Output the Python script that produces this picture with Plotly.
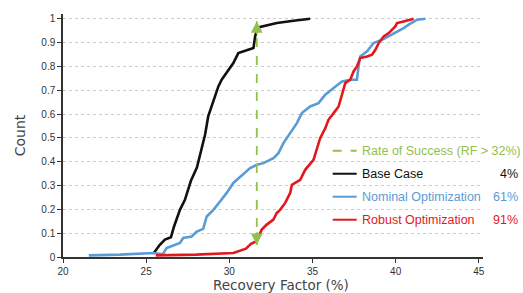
import plotly.graph_objects as go

# ---- data ----
base_x = [25.46, 25.82, 26.13, 26.49, 26.67, 27.03, 27.33, 27.69, 28.05, 28.23, 28.41, 28.54,
          28.73, 28.94, 29.34, 29.54, 29.94, 30.24, 30.54, 31.14, 31.45, 31.55, 31.67, 31.85,
          32.45, 32.86, 33.86, 34.86]
base_y = [0.017, 0.051, 0.073, 0.083, 0.127, 0.198, 0.240, 0.320, 0.375, 0.422, 0.471, 0.513,
          0.590, 0.632, 0.716, 0.744, 0.786, 0.814, 0.856, 0.870, 0.877, 0.926, 0.954, 0.966,
          0.975, 0.982, 0.992, 1.0]

nom_x = [21.55, 23.42, 25.46, 25.83, 26.0, 26.23, 27.03, 27.23, 27.73, 28.04, 28.43, 28.64,
         29.04, 29.44, 29.84, 30.24, 30.64, 31.25, 31.65, 32.05, 32.65, 32.95, 33.25, 33.76,
         34.06, 34.36, 34.86, 35.36, 35.77, 36.27, 36.77, 37.27, 37.67, 37.77, 37.87, 38.28,
         38.67, 39.18, 39.58, 39.88, 40.48, 40.78, 41.29, 41.79]
nom_y = [0.007, 0.010, 0.017, 0.012, 0.011, 0.038, 0.059, 0.080, 0.086, 0.107, 0.118, 0.170,
         0.198, 0.233, 0.269, 0.311, 0.337, 0.373, 0.387, 0.394, 0.415, 0.436, 0.478, 0.534,
         0.562, 0.604, 0.632, 0.646, 0.681, 0.709, 0.737, 0.744, 0.744, 0.800, 0.842, 0.863,
         0.898, 0.912, 0.926, 0.940, 0.961, 0.975, 0.996, 1.0]

rob_x = [25.58, 28.0, 30.24, 30.6, 31.0, 31.3, 31.6, 31.95, 32.25, 32.65, 32.85, 33.05, 33.36,
         33.66, 33.76, 34.26, 34.56, 35.06, 35.26, 35.46, 35.77, 35.96, 36.27, 36.57, 36.77,
         36.97, 37.27, 37.47, 37.67, 37.87, 38.28, 38.58, 38.78, 38.98, 39.28, 39.58, 39.98,
         40.08, 40.48, 41.08]
rob_y = [0.007, 0.010, 0.017, 0.025, 0.035, 0.055, 0.065, 0.115, 0.136, 0.157, 0.185, 0.198,
         0.227, 0.269, 0.303, 0.324, 0.366, 0.408, 0.450, 0.499, 0.541, 0.576, 0.604, 0.632,
         0.681, 0.730, 0.744, 0.779, 0.800, 0.835, 0.842, 0.849, 0.870, 0.898, 0.926, 0.940,
         0.968, 0.982, 0.989, 1.0]

series_names = ["Base Case", "Nominal Optimization", "Robust Optimization"]
success_rates = [4, 61, 91]
threshold_label = "Rate of Success (RF > 32%)"
arrow_x = 31.65
arrow_y = [0.05, 0.99]

x_ticks = [20, 25, 30, 35, 40, 45]
y_ticks = [0, 0.1, 0.2, 0.3, 0.4, 0.5, 0.6, 0.7, 0.8, 0.9, 1]
y_ticklabels = ["0", "0.1", "0.2", "0.3", "0.4", "0.5", "0.6", "0.7", "0.8", "0.9", "1"]

colors = ["#111111", "#5b9bd5", "#e3171e"]
green = "#92c04e"

fig = go.Figure()
for xs, ys, c, n in zip([base_x, nom_x, rob_x], [base_y, nom_y, rob_y], colors, series_names):
    fig.add_trace(go.Scatter(x=xs, y=ys, mode="lines", name=n,
                             line=dict(color=c, width=2.6), showlegend=False))

# green double arrow
fig.add_trace(go.Scatter(x=[arrow_x, arrow_x], y=arrow_y, mode="lines",
                         line=dict(color=green, width=1.8, dash="dash"), showlegend=False))
fig.add_annotation(x=arrow_x, y=arrow_y[1], ax=arrow_x, ay=arrow_y[1] - 0.06,
                   xref="x", yref="y", axref="x", ayref="y", text="", showarrow=True,
                   arrowhead=2, arrowsize=1.3, arrowwidth=1.8, arrowcolor=green)
fig.add_annotation(x=arrow_x, y=arrow_y[0], ax=arrow_x, ay=arrow_y[0] + 0.06,
                   xref="x", yref="y", axref="x", ayref="y", text="", showarrow=True,
                   arrowhead=2, arrowsize=1.3, arrowwidth=1.8, arrowcolor=green)

# custom legend
W, H = 420.0, 243.1
def px(xp): return (xp - 63.3) / W
def py(yp): return (257.3 - yp) / H

leg_rows = [(151, green, threshold_label, None, "dash")]
for i, n in enumerate(series_names):
    leg_rows.append((174 + 23 * i, colors[i], n, f"{success_rates[i]}%", "solid"))

for yrow, c, label, pct, dash in leg_rows:
    fig.add_shape(type="line", xref="paper", yref="paper", x0=px(333), x1=px(357),
                  y0=py(yrow), y1=py(yrow), line=dict(color=c, width=2, dash=dash))
    fig.add_annotation(xref="paper", yref="paper", x=px(360), y=py(yrow), text=label,
                       showarrow=False, xanchor="left", yanchor="middle",
                       font=dict(family="Liberation Sans", size=12.5, color=c))
    if pct:
        fig.add_annotation(xref="paper", yref="paper", x=px(520), y=py(yrow), text=pct,
                           showarrow=False, xanchor="right", yanchor="middle",
                           font=dict(family="Liberation Sans", size=12.5, color=c))

# x-axis title (slightly right of centre, as in the reference)
fig.add_annotation(xref="paper", yref="paper", x=px(281.5), y=py(285),
                   text="Recovery Factor (%)", showarrow=False,
                   xanchor="center", yanchor="middle",
                   font=dict(family="DejaVu Sans", size=13.5, color="#444"))

fig.update_layout(
    width=523, height=293,
    margin=dict(l=63.3, r=39.7, t=14.2, b=35.7, autoexpand=False),
    paper_bgcolor="white", plot_bgcolor="white",
    showlegend=False,
    xaxis=dict(range=[20, 45.25], tickvals=x_ticks, ticks="outside", ticklen=4,
               tickcolor="#333", showline=True, linecolor="#333", linewidth=1.5,
               showgrid=False, zeroline=False, automargin=False,
               tickfont=dict(family="Liberation Sans", size=10, color="#333")),
    yaxis=dict(range=[0, 1.02], tickvals=y_ticks, ticktext=y_ticklabels, ticks="outside",
               ticklen=4, tickcolor="#333", showline=True, linecolor="#333", linewidth=1.5,
               showgrid=True, gridcolor="#cccccc", griddash="dot", gridwidth=1,
               zeroline=False, automargin=False,
               tickfont=dict(family="Liberation Sans", size=10, color="#333"),
               title=dict(text="Count", standoff=12,
                          font=dict(family="DejaVu Sans", size=14, color="#444"))),
)

fig.write_html("out.html", config={"displayModeBar": False},
               post_script="document.body.style.margin='0';")
